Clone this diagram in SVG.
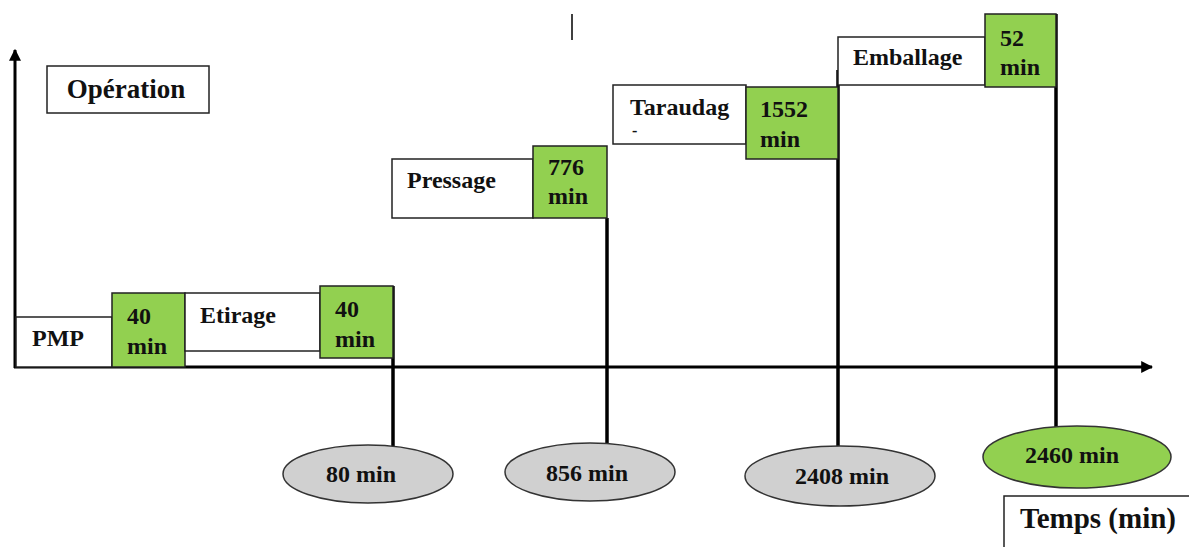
<svg xmlns="http://www.w3.org/2000/svg" width="1189" height="547" viewBox="0 0 1189 547">
<defs>
<style>
text{font-family:"Liberation Serif","Times New Roman","DejaVu Serif",serif;font-weight:bold;fill:#111}
.t{font-size:24px}
.big{font-size:27px}
.huge{font-size:29px}
.dash{font-size:16px}
.box{fill:#fff;stroke:#222;stroke-width:1.5}
.g{fill:#92d050;stroke:#222;stroke-width:1.5}
.ell{fill:#d0d0d0;stroke:#333;stroke-width:1.5}
.ax{stroke:#000;stroke-width:3;fill:none}
.drop{stroke:#000;stroke-width:3.5;fill:none}
</style>
<marker id="ah" viewBox="0 0 10 10" refX="9" refY="5" markerWidth="4" markerHeight="4" orient="auto"><path d="M0,0 L10,5 L0,10 z" fill="#000"/></marker>
</defs>
<g id="connectors">
<line class="ax" x1="15" y1="368" x2="15" y2="50" marker-end="url(#ah)"/>
<line class="ax" x1="14" y1="367" x2="1152" y2="367" marker-end="url(#ah)"/>
<line class="drop" x1="393" y1="286" x2="393" y2="446"/>
<line class="drop" x1="607" y1="218" x2="607" y2="443"/>
<line class="drop" x1="838" y1="70" x2="838" y2="446"/>
<line class="drop" x1="1056" y1="14" x2="1056" y2="427"/>
<line x1="572" y1="14" x2="572" y2="40" stroke="#000" stroke-width="1.5"/>
</g>
<g id="operation"><rect class="box" x="47" y="66" width="162" height="47"/><text class="big" x="126" y="98" text-anchor="middle">Opération</text></g>
<g id="pmp"><rect class="box" x="16" y="317" width="96" height="50"/><text class="t" x="32" y="346">PMP</text></g>
<g id="pmp-time"><rect class="g" x="112" y="293" width="73" height="74"/><text class="t" x="127" y="324">40</text><text class="t" x="127" y="354">min</text></g>
<g id="etirage"><rect class="box" x="185" y="293" width="135" height="58"/><text class="t" x="200" y="323">Etirage</text></g>
<g id="etirage-time"><rect class="g" x="320" y="286" width="73" height="72"/><text class="t" x="335" y="317">40</text><text class="t" x="335" y="347">min</text></g>
<g id="pressage"><rect class="box" x="392" y="159" width="141" height="59"/><text class="t" x="407" y="188">Pressage</text></g>
<g id="pressage-time"><rect class="g" x="533" y="146" width="74" height="72"/><text class="t" x="548" y="175">776</text><text class="t" x="548" y="204">min</text></g>
<g id="taraudage"><rect class="box" x="613" y="85" width="133" height="59"/><text class="t" x="630" y="115">Taraudag</text><text class="dash" x="632" y="136">-</text></g>
<g id="taraudage-time"><rect class="g" x="746" y="87" width="92" height="72"/><text class="t" x="760" y="117">1552</text><text class="t" x="760" y="147">min</text></g>
<g id="emballage"><rect class="box" x="838" y="37" width="147" height="48"/><text class="t" x="853" y="65">Emballage</text></g>
<g id="emballage-time"><rect class="g" x="985" y="14" width="71" height="73"/><text class="t" x="1000" y="46">52</text><text class="t" x="1000" y="75">min</text></g>
<g id="t80"><ellipse class="ell" cx="368" cy="474" rx="85" ry="29"/><text class="t" x="361" y="482" text-anchor="middle">80 min</text></g>
<g id="t856"><ellipse class="ell" cx="590" cy="472" rx="85" ry="29"/><text class="t" x="587" y="481" text-anchor="middle">856 min</text></g>
<g id="t2408"><ellipse class="ell" cx="840" cy="476" rx="95" ry="30"/><text class="t" x="842" y="484" text-anchor="middle">2408 min</text></g>
<g id="t2460"><ellipse cx="1077" cy="457" rx="94" ry="31" fill="#92d050" stroke="#333" stroke-width="1.5"/><text class="t" x="1072" y="463" text-anchor="middle">2460 min</text></g>
<g id="temps"><rect class="box" x="1004" y="496" width="190" height="56"/><text class="huge" x="1020" y="528">Temps (min)</text></g>
</svg>
